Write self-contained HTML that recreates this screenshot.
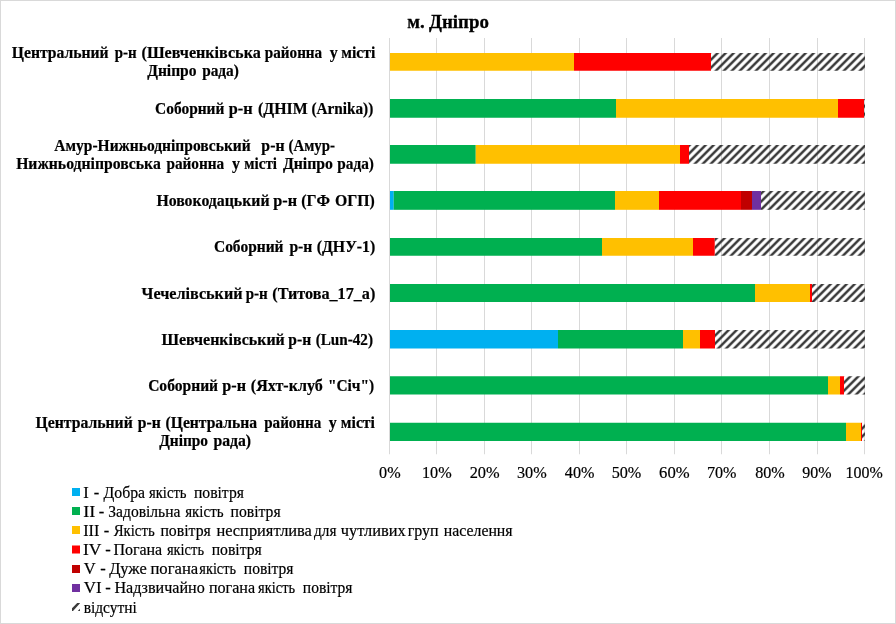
<!DOCTYPE html>
<html lang="uk"><head><meta charset="utf-8"><title>м. Дніпро</title>
<style>
html,body{margin:0;padding:0;background:#fff}
body{width:896px;height:624px;overflow:hidden}
svg{display:block}
text{font-family:"Liberation Serif",serif;fill:#000;white-space:pre}
.cat{font-weight:bold;font-size:16px;stroke:#000;stroke-width:.2px}
.ttl{font-weight:bold;font-size:18px;stroke:#000;stroke-width:.3px}
.rg{font-size:16.5px;stroke:#000;stroke-width:.2px}
</style></head><body>
<svg width="896" height="624" viewBox="0 0 896 624">
<defs>
<pattern id="hatch" width="8" height="8" patternUnits="userSpaceOnUse" x="2.67" y="0">
<path d="M-2,10 L10,-2 M-2,2 L2,-2 M6,10 L10,6" stroke="#3a3a3a" stroke-width="2.5" fill="none"/>
</pattern>
</defs>
<rect x="0" y="0" width="896" height="624" fill="#fff"/>
<rect x="0.5" y="0.5" width="895" height="623" fill="none" stroke="#d9d9d9" stroke-width="1"/>

<g stroke="#d9d9d9" stroke-width="1">
<line x1="389.5" y1="38.0" x2="389.5" y2="454.25"/>
<line x1="436.5" y1="38.0" x2="436.5" y2="454.25"/>
<line x1="484.5" y1="38.0" x2="484.5" y2="454.25"/>
<line x1="531.5" y1="38.0" x2="531.5" y2="454.25"/>
<line x1="579.5" y1="38.0" x2="579.5" y2="454.25"/>
<line x1="626.5" y1="38.0" x2="626.5" y2="454.25"/>
<line x1="674.5" y1="38.0" x2="674.5" y2="454.25"/>
<line x1="721.5" y1="38.0" x2="721.5" y2="454.25"/>
<line x1="769.5" y1="38.0" x2="769.5" y2="454.25"/>
<line x1="817.5" y1="38.0" x2="817.5" y2="454.25"/>
<line x1="864.5" y1="38.0" x2="864.5" y2="454.25"/>
</g>
<rect x="390.0" y="53.0" width="184.00" height="17.75" fill="#FFC000"/>
<rect x="574" y="53.0" width="137.00" height="17.75" fill="#FF0000"/>
<rect x="711" y="53.0" width="154.00" height="17.75" fill="url(#hatch)"/>
<rect x="390.0" y="99.0" width="226.00" height="18.75" fill="#00B050"/>
<rect x="616" y="99.0" width="222.00" height="18.75" fill="#FFC000"/>
<rect x="838" y="99.0" width="26.00" height="18.75" fill="#FF0000"/>
<rect x="864" y="99.0" width="1.00" height="18.75" fill="url(#hatch)"/>
<rect x="390.0" y="145.0" width="85.75" height="18.75" fill="#00B050"/>
<rect x="475.75" y="145.0" width="204.25" height="18.75" fill="#FFC000"/>
<rect x="680" y="145.0" width="9.00" height="18.75" fill="#FF0000"/>
<rect x="689" y="145.0" width="176.00" height="18.75" fill="url(#hatch)"/>
<rect x="390.0" y="191.0" width="3.75" height="18.80" fill="#00B0F0"/>
<rect x="393.75" y="191.0" width="221.25" height="18.80" fill="#00B050"/>
<rect x="615" y="191.0" width="44.00" height="18.80" fill="#FFC000"/>
<rect x="659" y="191.0" width="82.00" height="18.80" fill="#FF0000"/>
<rect x="741" y="191.0" width="11.00" height="18.80" fill="#C00000"/>
<rect x="752" y="191.0" width="9.00" height="18.80" fill="#7030A0"/>
<rect x="761" y="191.0" width="104.00" height="18.80" fill="url(#hatch)"/>
<rect x="390.0" y="238.0" width="212.00" height="17.75" fill="#00B050"/>
<rect x="602" y="238.0" width="91.00" height="17.75" fill="#FFC000"/>
<rect x="693" y="238.0" width="21.75" height="17.75" fill="#FF0000"/>
<rect x="714.75" y="238.0" width="150.25" height="17.75" fill="url(#hatch)"/>
<rect x="390.0" y="284.0" width="365.00" height="18.00" fill="#00B050"/>
<rect x="755" y="284.0" width="55.00" height="18.00" fill="#FFC000"/>
<rect x="810" y="284.0" width="2.00" height="18.00" fill="#FF0000"/>
<rect x="812" y="284.0" width="53.00" height="18.00" fill="url(#hatch)"/>
<rect x="390.0" y="330.0" width="168.00" height="18.50" fill="#00B0F0"/>
<rect x="558" y="330.0" width="125.00" height="18.50" fill="#00B050"/>
<rect x="683" y="330.0" width="17.00" height="18.50" fill="#FFC000"/>
<rect x="700" y="330.0" width="15.00" height="18.50" fill="#FF0000"/>
<rect x="715" y="330.0" width="150.00" height="18.50" fill="url(#hatch)"/>
<rect x="390.0" y="376.25" width="438.00" height="18.25" fill="#00B050"/>
<rect x="828" y="376.25" width="12.00" height="18.25" fill="#FFC000"/>
<rect x="840" y="376.25" width="4.00" height="18.25" fill="#FF0000"/>
<rect x="844" y="376.25" width="21.00" height="18.25" fill="url(#hatch)"/>
<rect x="390.0" y="422.75" width="456.00" height="18.25" fill="#00B050"/>
<rect x="846" y="422.75" width="15.00" height="18.25" fill="#FFC000"/>
<rect x="861" y="422.75" width="1.00" height="18.25" fill="#FF0000"/>
<rect x="862" y="422.75" width="3.00" height="18.25" fill="url(#hatch)"/>
<rect x="72" y="488" width="8" height="8" fill="#00B0F0"/>
<rect x="72" y="507" width="8" height="8" fill="#00B050"/>
<rect x="72" y="526" width="8" height="8" fill="#FFC000"/>
<rect x="72" y="545.5" width="8" height="8" fill="#FF0000"/>
<rect x="72" y="565" width="8" height="8" fill="#C00000"/>
<rect x="72" y="584" width="8" height="8" fill="#7030A0"/>
<path d="M72,611 L72,608.3 L77.2,603 L80,603 L80,603.2 L73,611 Z M77.8,611 L80,608.8 L80,611 Z" fill="#3a3a3a"/>
<text class="cat" y="58"><tspan x="11.81" textLength="96.79" lengthAdjust="spacingAndGlyphs">Центральний</tspan> <tspan x="114.72" textLength="21.88" lengthAdjust="spacingAndGlyphs">р-н</tspan> <tspan x="141.57" textLength="119.16" lengthAdjust="spacingAndGlyphs">(Шевченківська</tspan> <tspan x="264.80" textLength="57.39" lengthAdjust="spacingAndGlyphs">районна</tspan> <tspan x="329.63">у</tspan> <tspan x="341.22" textLength="34.06" lengthAdjust="spacingAndGlyphs">місті</tspan></text>
<text class="cat" y="76"><tspan x="147.19" textLength="49.35" lengthAdjust="spacingAndGlyphs">Дніпро</tspan> <tspan x="202.13" textLength="36.77" lengthAdjust="spacingAndGlyphs">рада)</tspan></text>
<text class="cat" y="114"><tspan x="155.08" textLength="69.30" lengthAdjust="spacingAndGlyphs">Соборний</tspan> <tspan x="228.72" textLength="23.88" lengthAdjust="spacingAndGlyphs">р-н</tspan> <tspan x="258.00" textLength="49.62" lengthAdjust="spacingAndGlyphs">(ДНІМ</tspan> <tspan x="311.41" textLength="61.88" lengthAdjust="spacingAndGlyphs">(Arnika))</tspan></text>
<text class="cat" y="151"><tspan x="54.35" textLength="196.33" lengthAdjust="spacingAndGlyphs">Амур-Нижньодніпровський</tspan> <tspan x="261.36" textLength="23.13" lengthAdjust="spacingAndGlyphs">р-н</tspan> <tspan x="288.54" textLength="46.48" lengthAdjust="spacingAndGlyphs">(Амур-</tspan></text>
<text class="cat" y="169"><tspan x="16.13" textLength="144.62" lengthAdjust="spacingAndGlyphs">Нижньодніпровська</tspan> <tspan x="166.41" textLength="57.81" lengthAdjust="spacingAndGlyphs">районна</tspan> <tspan x="231.92">у</tspan> <tspan x="244.37" textLength="32.69" lengthAdjust="spacingAndGlyphs">місті</tspan> <tspan x="282.92" textLength="50.08" lengthAdjust="spacingAndGlyphs">Дніпро</tspan> <tspan x="337.22" textLength="36.68" lengthAdjust="spacingAndGlyphs">рада)</tspan></text>
<text class="cat" y="206"><tspan x="156.42" textLength="113.09" lengthAdjust="spacingAndGlyphs">Новокодацький</tspan> <tspan x="273.33" textLength="23.78" lengthAdjust="spacingAndGlyphs">р-н</tspan> <tspan x="301.34" textLength="28.71" lengthAdjust="spacingAndGlyphs">(ГФ</tspan> <tspan x="334.95" textLength="39.81" lengthAdjust="spacingAndGlyphs">ОГП)</tspan></text>
<text class="cat" y="252"><tspan x="213.98" textLength="69.50" lengthAdjust="spacingAndGlyphs">Соборний</tspan> <tspan x="289.41" textLength="22.93" lengthAdjust="spacingAndGlyphs">р-н</tspan> <tspan x="316.73" textLength="58.49" lengthAdjust="spacingAndGlyphs">(ДНУ-1)</tspan></text>
<text class="cat" y="299"><tspan x="141.60" textLength="100.90" lengthAdjust="spacingAndGlyphs">Чечелівський</tspan> <tspan x="245.73" textLength="22.01" lengthAdjust="spacingAndGlyphs">р-н</tspan> <tspan x="272.30" textLength="102.97" lengthAdjust="spacingAndGlyphs">(Титова_17_а)</tspan></text>
<text class="cat" y="345"><tspan x="161.56" textLength="123.24" lengthAdjust="spacingAndGlyphs">Шевченківський</tspan> <tspan x="288.35" textLength="22.82" lengthAdjust="spacingAndGlyphs">р-н</tspan> <tspan x="315.65" textLength="57.38" lengthAdjust="spacingAndGlyphs">(Lun-42)</tspan></text>
<text class="cat" y="391"><tspan x="148.13" textLength="69.95" lengthAdjust="spacingAndGlyphs">Соборний</tspan> <tspan x="222.32" textLength="23.70" lengthAdjust="spacingAndGlyphs">р-н</tspan> <tspan x="250.82" textLength="71.95" lengthAdjust="spacingAndGlyphs">(Яхт-клуб</tspan> <tspan x="327.90" textLength="46.25" lengthAdjust="spacingAndGlyphs">&quot;Січ&quot;)</tspan></text>
<text class="cat" y="428"><tspan x="35.62" textLength="97.09" lengthAdjust="spacingAndGlyphs">Центральний</tspan> <tspan x="137.75" textLength="22.94" lengthAdjust="spacingAndGlyphs">р-н</tspan> <tspan x="165.61" textLength="91.42" lengthAdjust="spacingAndGlyphs">(Центральна</tspan> <tspan x="264.22" textLength="57.08" lengthAdjust="spacingAndGlyphs">районна</tspan> <tspan x="328.78">у</tspan> <tspan x="340.83" textLength="34.11" lengthAdjust="spacingAndGlyphs">місті</tspan></text>
<text class="cat" y="446"><tspan x="159.19" textLength="48.88" lengthAdjust="spacingAndGlyphs">Дніпро</tspan> <tspan x="213.40" textLength="37.66" lengthAdjust="spacingAndGlyphs">рада)</tspan></text>
<text class="ttl" y="28"><tspan x="407.34" textLength="17.41" lengthAdjust="spacingAndGlyphs">м.</tspan> <tspan x="429.02" textLength="59.91" lengthAdjust="spacingAndGlyphs">Дніпро</tspan></text>
<text class="rg" y="498"><tspan x="83.20">I</tspan> <tspan x="93.85">-</tspan> <tspan x="103.57" textLength="41.52" lengthAdjust="spacingAndGlyphs">Добра</tspan> <tspan x="148.92" textLength="37.60" lengthAdjust="spacingAndGlyphs">якість</tspan> <tspan x="193.95" textLength="49.98" lengthAdjust="spacingAndGlyphs">повітря</tspan></text>
<text class="rg" y="517"><tspan x="83.16" textLength="12.00" lengthAdjust="spacingAndGlyphs">II</tspan> <tspan x="98.85">-</tspan> <tspan x="108.31" textLength="72.09" lengthAdjust="spacingAndGlyphs">Задовільна</tspan> <tspan x="185.20" textLength="38.30" lengthAdjust="spacingAndGlyphs">якість</tspan> <tspan x="230.58" textLength="50.09" lengthAdjust="spacingAndGlyphs">повітря</tspan></text>
<text class="rg" y="536"><tspan x="83.20" textLength="16.17" lengthAdjust="spacingAndGlyphs">III</tspan> <tspan x="103.85">-</tspan> <tspan x="113.63" textLength="41.04" lengthAdjust="spacingAndGlyphs">Якість</tspan> <tspan x="160.43" textLength="50.36" lengthAdjust="spacingAndGlyphs">повітря</tspan> <tspan x="216.39" textLength="95.53" lengthAdjust="spacingAndGlyphs">несприятлива</tspan> <tspan x="314.03" textLength="22.39" lengthAdjust="spacingAndGlyphs">для</tspan> <tspan x="340.78" textLength="64.84" lengthAdjust="spacingAndGlyphs">чутливих</tspan> <tspan x="407.66" textLength="30.86" lengthAdjust="spacingAndGlyphs">груп</tspan> <tspan x="443.83" textLength="68.77" lengthAdjust="spacingAndGlyphs">населення</tspan></text>
<text class="rg" y="555"><tspan x="82.98" textLength="18.12" lengthAdjust="spacingAndGlyphs">IV</tspan> <tspan x="105.33">-</tspan> <tspan x="113.42" textLength="48.78" lengthAdjust="spacingAndGlyphs">Погана</tspan> <tspan x="166.90" textLength="37.09" lengthAdjust="spacingAndGlyphs">якість</tspan> <tspan x="211.65" textLength="50.15" lengthAdjust="spacingAndGlyphs">повітря</tspan></text>
<text class="rg" y="574"><tspan x="83.81">V</tspan> <tspan x="100.33">-</tspan> <tspan x="109.17" textLength="37.59" lengthAdjust="spacingAndGlyphs">Дуже</tspan> <tspan x="150.44" textLength="47.82" lengthAdjust="spacingAndGlyphs">погана</tspan> <tspan x="199.32" textLength="36.74" lengthAdjust="spacingAndGlyphs">якість</tspan> <tspan x="243.85" textLength="49.67" lengthAdjust="spacingAndGlyphs">повітря</tspan></text>
<text class="rg" y="593"><tspan x="83.83" textLength="17.79" lengthAdjust="spacingAndGlyphs">VI</tspan> <tspan x="105.33">-</tspan> <tspan x="114.39" textLength="90.37" lengthAdjust="spacingAndGlyphs">Надзвичайно</tspan> <tspan x="208.94" textLength="46.15" lengthAdjust="spacingAndGlyphs">погана</tspan> <tspan x="258.11" textLength="37.03" lengthAdjust="spacingAndGlyphs">якість</tspan> <tspan x="302.85" textLength="49.69" lengthAdjust="spacingAndGlyphs">повітря</tspan></text>
<text class="rg" y="613"><tspan x="83.66" textLength="53.10" lengthAdjust="spacingAndGlyphs">відсутні</tspan></text>
<text class="rg" y="478"><tspan x="379.09" textLength="21.52" lengthAdjust="spacingAndGlyphs">0%</tspan></text>
<text class="rg" y="478"><tspan x="422.03" textLength="29.66" lengthAdjust="spacingAndGlyphs">10%</tspan></text>
<text class="rg" y="478"><tspan x="469.68" textLength="29.99" lengthAdjust="spacingAndGlyphs">20%</tspan></text>
<text class="rg" y="478"><tspan x="516.97" textLength="29.71" lengthAdjust="spacingAndGlyphs">30%</tspan></text>
<text class="rg" y="478"><tspan x="564.84" textLength="29.57" lengthAdjust="spacingAndGlyphs">40%</tspan></text>
<text class="rg" y="478"><tspan x="611.65" textLength="29.67" lengthAdjust="spacingAndGlyphs">50%</tspan></text>
<text class="rg" y="478"><tspan x="659.09" textLength="30.55" lengthAdjust="spacingAndGlyphs">60%</tspan></text>
<text class="rg" y="478"><tspan x="706.92" textLength="29.50" lengthAdjust="spacingAndGlyphs">70%</tspan></text>
<text class="rg" y="478"><tspan x="755.15" textLength="29.61" lengthAdjust="spacingAndGlyphs">80%</tspan></text>
<text class="rg" y="478"><tspan x="802.22" textLength="29.26" lengthAdjust="spacingAndGlyphs">90%</tspan></text>
<text class="rg" y="478"><tspan x="845.52" textLength="37.22" lengthAdjust="spacingAndGlyphs">100%</tspan></text>
</svg></body></html>
